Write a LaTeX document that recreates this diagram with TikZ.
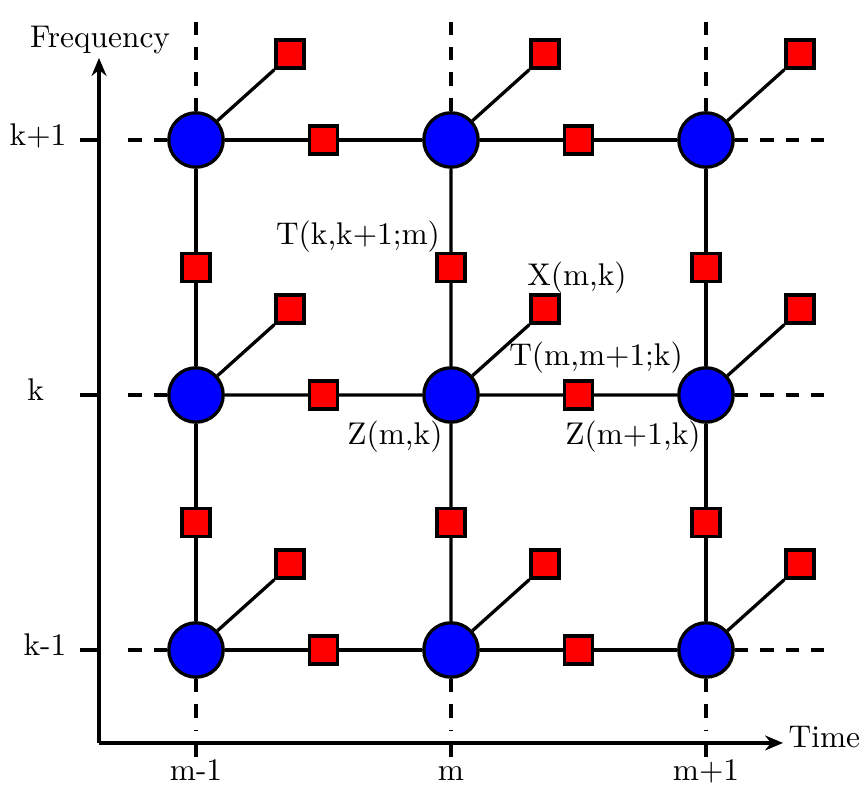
\documentclass[tikz,border=0pt]{standalone}
\usepackage{tikz}
\usetikzlibrary{arrows.meta, calc}
\tikzset{
  varnode/.style={circle, draw=black, line width=1.1pt, fill=blue,
                  minimum size=0.64cm, inner sep=0pt},
  factnode/.style={rectangle, draw=black, line width=1.1pt, fill=red,
                   minimum size=0.33cm, inner sep=0pt},
  farline/.style={line width=1.1pt, dash pattern=on 4.5pt off 4pt},
}

\begin{document}
\begin{tikzpicture}[font=\fontsize{10.5}{12}\selectfont, line width=1.1pt]
  \useasboundingbox (-2.306,-1.588) rectangle (7.859,7.647);
  % variable nodes Z(m,k)
  \foreach \i in {0,1,2}
    \foreach \j in {0,1,2}
      \node[varnode] (z\i\j) at (3*\i,3*\j) {};
  % time links T(m,m+1;k)
  \foreach \i/\k in {0/1,1/2}
    \foreach \j in {0,1,2} {
      \node[factnode] (h\i\j) at ($(z\i\j)!0.5!(z\k\j)$) {};
      \draw (z\i\j) -- (h\i\j) -- (z\k\j);
    }
  % frequency links T(k,k+1;m)
  \foreach \i in {0,1,2}
    \foreach \j/\k in {0/1,1/2} {
      \node[factnode] (v\i\j) at ($(z\i\j)!0.5!(z\i\k)$) {};
      \draw (z\i\j) -- (v\i\j) -- (z\i\k);
    }
  % observations X(m,k)
  \foreach \i in {0,1,2}
    \foreach \j in {0,1,2} {
      \node[factnode] (x\i\j) at ($(z\i\j)+(1.106,1.012)$) {};
      \draw (z\i\j) -- (x\i\j.south west);
    }
  % open ends
  \foreach \j in {0,1,2} {
    \coordinate (wl\j) at (-0.835,3*\j);
    \coordinate (wr\j) at (7.40,3*\j);
    \draw[farline] (z0\j) -- (wl\j);
    \draw[farline] (z2\j) -- (wr\j);
  }
  \foreach \i in {0,1,2} {
    \coordinate (nt\i) at (3*\i,7.53);
    \coordinate (sb\i) at (3*\i,-0.94);
    \draw[farline] (z\i2) -- (nt\i);
    \draw[farline] (z\i0) -- (sb\i);
  }
  % axes
  \coordinate (o) at (-1.141,-1.094);
  \coordinate (xend) at (6.906,-1.094);
  \coordinate (yend) at (-1.141,6.965);
  \draw[-{Stealth[length=6pt, width=5pt]}] (o) -- (xend);
  \draw[-{Stealth[length=6pt, width=5pt]}] (o) -- (yend);
  \node[anchor=base west, inner sep=0pt] (tlabel) at (6.953,-1.153) {Time};
  \node[anchor=base, inner sep=0pt] (flabel) at (-1.129,7.083) {Frequency};
  \foreach \j in {0,1,2}
    \draw (o |- z0\j) -- ++(-0.224,0);
  \foreach \i in {0,1,2}
    \draw (z\i0 |- o) -- ++(0,-0.165);
  \node[anchor=base east, inner sep=0pt] (kp) at (-1.506,5.93) {k+1};
  \node[anchor=base east, inner sep=0pt] (k) at (-1.77,2.93) {k};
  \node[anchor=base east, inner sep=0pt] (km) at (-1.506,-0.07) {k-1};
  \node[anchor=base, inner sep=0pt] (mm) at (0,-1.541) {m-1};
  \node[anchor=base, inner sep=0pt] (m) at (3,-1.541) {m};
  \node[anchor=base, inner sep=0pt] (mp) at (6,-1.541) {m+1};
  % labels
  \node (tkm) at (1.906,4.859) {T(k,k+1;m)};
  \node (xmk) at (4.482,4.376) {X(m,k)};
  \node (tmk) at (4.706,3.435) {T(m,m+1;k)};
  \node (zmk) at (2.341,2.506) {Z(m,k)};
  \node (zpk) at (5.141,2.506) {Z(m+1,k)};
\end{tikzpicture}
\end{document}
